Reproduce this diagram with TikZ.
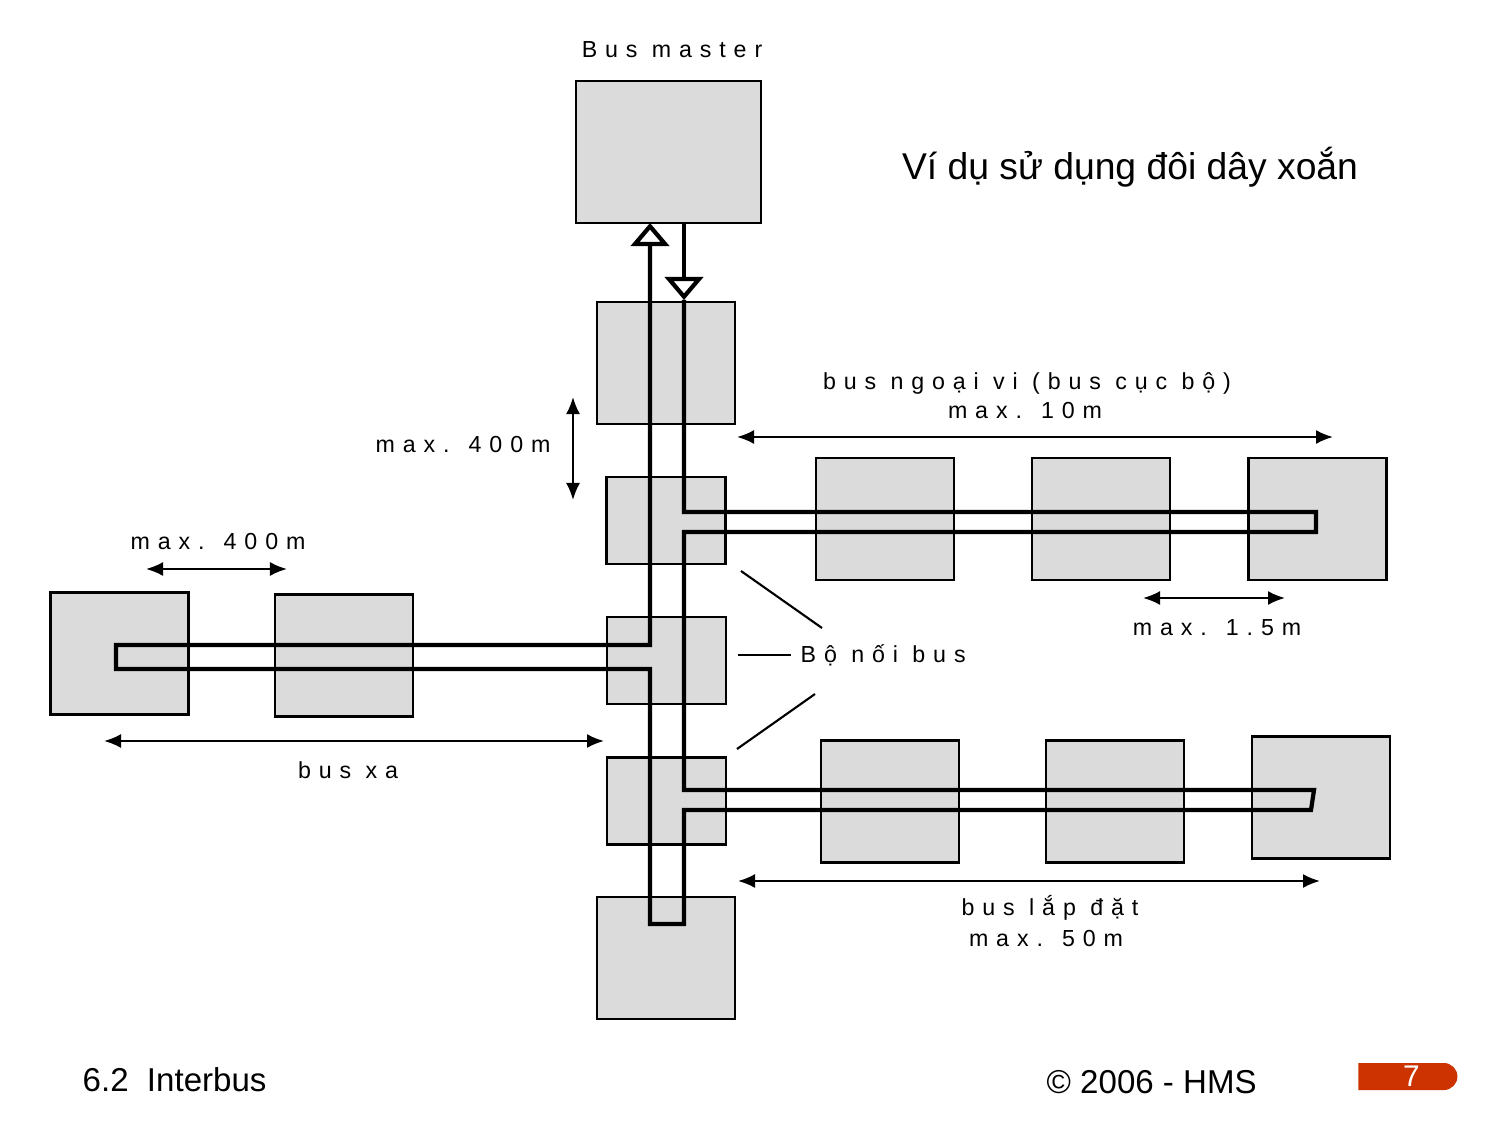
\documentclass[tikz,border=0pt]{standalone}
\usepackage{fontspec}
\setmainfont{Liberation Sans}
\newfontfamily\spacedfont[LetterSpace=34]{Liberation Sans}
\usetikzlibrary{arrows.meta,shapes.misc}
\definecolor{pagered}{RGB}{204,51,0}

\begin{document}
\begin{tikzpicture}[x=0.01cm, y=-0.01cm,
        unit_box/.style={rectangle, draw=black, fill=black!14, thick, minimum width=1.38cm, minimum height=1.22cm},
        coupler_box/.style={unit_box, minimum width=1.19cm, minimum height=0.87cm},
        bus_line/.style={black, very thick, line join=miter},
        flow_tip/.style={-{Triangle[open, length=2.3mm, width=3.8mm]}},
        dim_arrow/.style={black, semithick, {Latex[length=1.7mm,width=1.4mm]}-{Latex[length=1.7mm,width=1.4mm]}},
        pointer_line/.style={black, semithick},
        label_text/.style={font=\spacedfont\fontsize{6.6}{8}\selectfont, inner sep=0pt},
        page_badge/.style={rounded rectangle, rounded rectangle left arc=none, fill=pagered, text=white, minimum width=0.99cm, minimum height=0.27cm, inner sep=0pt, font=\fontsize{8.5}{9}\selectfont}
        ]
            \useasboundingbox (0,0) rectangle (1495,1122);

            % main line
            \node[unit_box, minimum width=1.85cm, minimum height=1.42cm] (master) at (668.5,152) {};
            \node[unit_box]    (repeater)  at (666,363)   {};
            \node[coupler_box] (coupler_1) at (666,520.5) {};
            \node[coupler_box] (coupler_2) at (666.5,660.5) {};
            \node[coupler_box] (coupler_3) at (666.5,801) {};
            \node[unit_box]    (last)      at (666,958)   {};
            % peripheral bus
            \node[unit_box] (periph_1) at (885,519)    {};
            \node[unit_box] (periph_2) at (1101,519)   {};
            \node[unit_box] (periph_3) at (1317.5,519) {};
            % installation bus
            \node[unit_box] (inst_1) at (890,801.5)  {};
            \node[unit_box] (inst_2) at (1115,801.5) {};
            \node[unit_box] (inst_3) at (1321,797.5) {};
            % remote bus
            \node[unit_box] (remote_1) at (119.5,653.5) {};
            \node[unit_box] (remote_2) at (344,655.5)   {};

            % bus corners
            \coordinate (down_top)    at (684,223);
            \coordinate (down_tip)    at (684,300);
            \coordinate (p_turn_top)  at (684,512);
            \coordinate (p_end_top)   at (1316,512);
            \coordinate (p_end_bot)   at (1316,532);
            \coordinate (p_turn_bot)  at (684,532);
            \coordinate (i_turn_top)  at (684,790);
            \coordinate (i_end_top)   at (1314,790);
            \coordinate (i_end_bot)   at (1311,810);
            \coordinate (i_turn_bot)  at (684,810);
            \coordinate (loop_right)  at (684,924);
            \coordinate (loop_left)   at (650,924);
            \coordinate (r_turn_bot)  at (650,669);
            \coordinate (r_end_bot)   at (116,669);
            \coordinate (r_end_top)   at (116,645);
            \coordinate (r_turn_top)  at (650,645);
            \coordinate (up_top)      at (650,223);

            % Lines
            \draw[bus_line, flow_tip] (down_top) -- (down_tip);
            \draw[bus_line, flow_tip] (down_tip) -- (p_turn_top) -- (p_end_top) -- (p_end_bot) -- (p_turn_bot)
                -- (i_turn_top) -- (i_end_top) -- (i_end_bot) -- (i_turn_bot) -- (loop_right) -- (loop_left)
                -- (r_turn_bot) -- (r_end_bot) -- (r_end_top) -- (r_turn_top) -- (up_top);

            % dimensions
            \coordinate (seg_a) at (573,397);  \coordinate (seg_b) at (573,500);
            \coordinate (peri_a) at (737,437); \coordinate (peri_b) at (1333,437);
            \coordinate (drop_a) at (1143,598); \coordinate (drop_b) at (1285,598);
            \coordinate (rem_a) at (146,569);  \coordinate (rem_b) at (287,569);
            \coordinate (far_a) at (104,741);  \coordinate (far_b) at (604,741);
            \coordinate (inst_a) at (738,881); \coordinate (inst_b) at (1320,881);
            \draw[dim_arrow] (seg_a) -- (seg_b);
            \draw[dim_arrow] (peri_a) -- (peri_b);
            \draw[dim_arrow] (drop_a) -- (drop_b);
            \draw[dim_arrow] (rem_a) -- (rem_b);
            \draw[dim_arrow] (far_a) -- (far_b);
            \draw[dim_arrow] (inst_a) -- (inst_b);

            % text
            \node[label_text] (master_lbl) at (672,50)   {Bus master};
            \node[label_text] (seg_lbl)    at (463,445)  {max. 400m};
            \node[label_text] (peri_lbl)   at (1027,383) {bus ngoại vi (bus cục bộ)};
            \node[label_text] (peri_max)   at (1025,411) {max. 10m};
            \node[label_text] (drop_lbl)   at (1217,628) {max. 1.5m};
            \node[label_text] (rem_lbl)    at (218,542)  {max. 400m};
            \node[label_text] (far_lbl)    at (348,770)  {bus xa};
            \node[label_text] (inst_lbl)   at (1050,908) {bus lắp đặt};
            \node[label_text] (inst_max)   at (1046,938) {max. 50m};
            \node[label_text, anchor=west] (coupler_lbl) at (800,655) {Bộ nối bus};

            % coupler pointers
            \coordinate (ptr_1a) at (741,571); \coordinate (ptr_1b) at (822,628);
            \coordinate (ptr_2a) at (738,655); \coordinate (ptr_2b) at (791,655);
            \coordinate (ptr_3a) at (737,749); \coordinate (ptr_3b) at (815,694);
            \draw[pointer_line] (ptr_1a) -- (ptr_1b);
            \draw[pointer_line] (ptr_2a) -- (ptr_2b);
            \draw[pointer_line] (ptr_3a) -- (ptr_3b);

            % title and footer
            \node[font=\fontsize{10.6}{13}\selectfont] (title) at (1130,167) {Ví dụ sử dụng đôi dây xoắn};
            \node[font=\fontsize{9.4}{11}\selectfont, anchor=west, inner sep=0pt] (chapter) at (82,1080) {6.2\ \ Interbus};
            \node[font=\fontsize{9.4}{11}\selectfont, anchor=west, inner sep=0pt] (copyright) at (1046,1082) {© 2006 - HMS};
            \node[page_badge] (page_num) at (1405.5,1076.5) {\hspace{1.2mm}7};
        \end{tikzpicture}
\end{document}
